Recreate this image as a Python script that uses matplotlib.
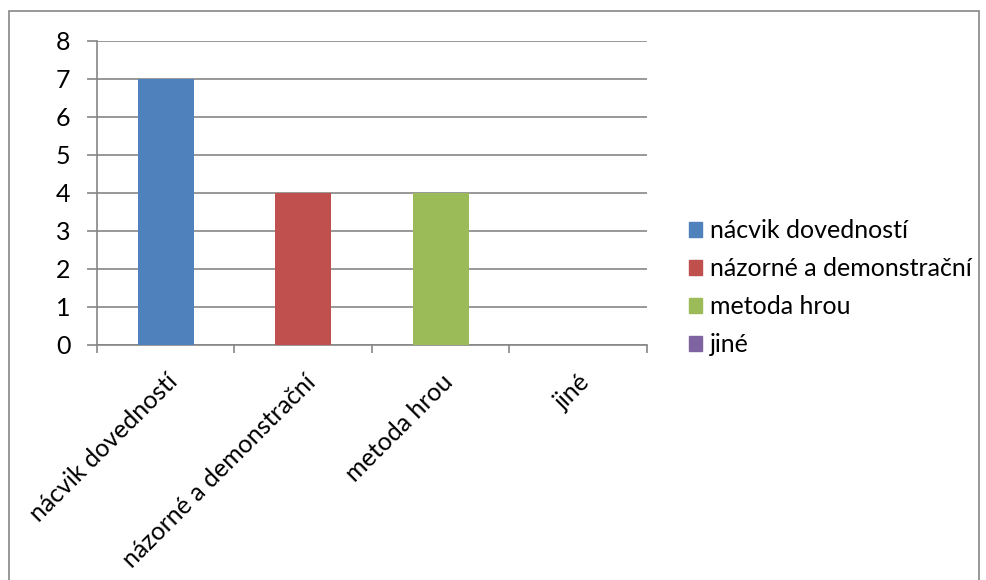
import matplotlib.pyplot as plt
from matplotlib.patches import Rectangle
import numpy as np

plt.rcParams['font.family'] = ['Lato', 'DejaVu Sans']

# data
categories = ['nácvik dovedností', 'názorné a demonstrační', 'metoda hrou', 'jiné']
values = [7, 4, 4, 0]
colors = ['#4F81BD', '#C0504D', '#9BBB59', '#8064A2']
yticks = [0, 1, 2, 3, 4, 5, 6, 7, 8]

W, H = 987, 580
fig = plt.figure(figsize=(W / 100, H / 100), dpi=100)
# plot area in pixels: left 97, right 647, top 41, bottom 345
ax = fig.add_axes([97 / W, 1 - 345 / H, (647 - 97) / W, (345 - 41) / H])

# outer chart border
fig.patches.append(Rectangle((9 / W, -0.01), (979 - 9) / W, 1 - 11 / H + 0.01,
                             transform=fig.transFigure, fill=False,
                             edgecolor='#868686', linewidth=1.2))

x = np.arange(len(categories))
bars = ax.bar(x, values, width=0.41, color=colors, zorder=3)

ax.set_xlim(-0.5, len(categories) - 0.5)
ax.set_ylim(0, 8)
ax.set_yticks(yticks)
ax.set_yticklabels([str(v) for v in yticks], fontsize=18)
ax.yaxis.grid(True, color='#868686', linewidth=1.2, zorder=0)

ax.set_xticks(np.arange(len(categories) + 1) - 0.5)
ax.set_xticklabels([])
ax.set_xticks(x, minor=True)
ax.set_xticklabels(categories, minor=True, rotation=45, ha='right', va='top',
                   rotation_mode='anchor', fontsize=18)
ax.tick_params(axis='x', which='minor', length=0, pad=18)
ax.tick_params(axis='x', which='major', length=6, color='#868686', width=1.2)
ax.tick_params(axis='y', length=7, color='#868686', width=1.2, pad=12)

for side in ['top', 'right']:
    ax.spines[side].set_visible(False)
for side in ['left', 'bottom']:
    ax.spines[side].set_color('#868686')
    ax.spines[side].set_linewidth(1.2)

# legend
handles = [Rectangle((0, 0), 1, 1, color=c) for c in colors]
fig.legend(handles, categories, loc='center left', bbox_to_anchor=(666 / W, 1 - 288 / H),
           frameon=False, fontsize=18, handlelength=0.55, handleheight=0.55,
           handletextpad=0.3, labelspacing=0.6)

fig.savefig('out.png', dpi=100)
